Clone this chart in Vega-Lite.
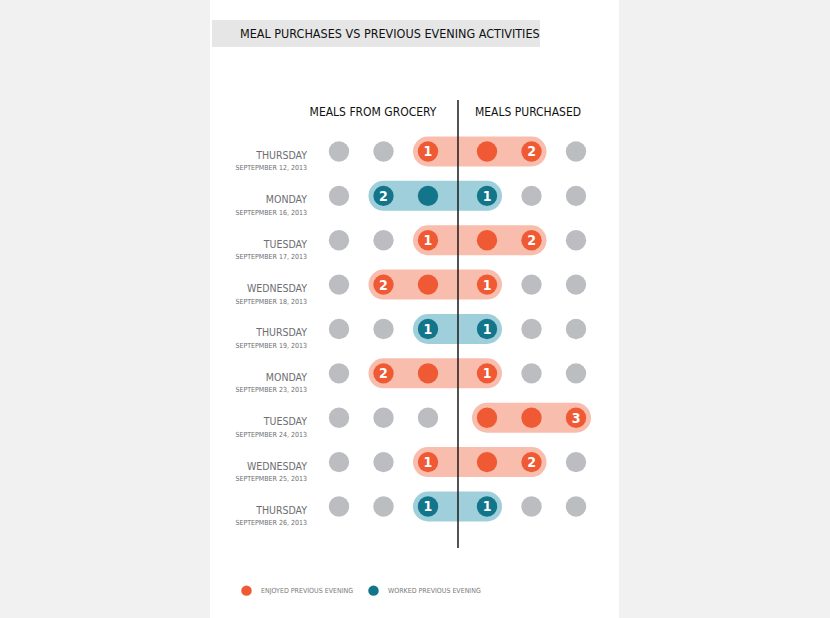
{
  "$schema": "https://vega.github.io/schema/vega-lite/v6.json",
  "width": 409,
  "height": 618,
  "autosize": {"type": "none"},
  "padding": {"left": 210, "right": 211, "top": 0, "bottom": 0},
  "background": "#f1f1f1",
  "config": {
    "view": {"stroke": null, "fill": "white"},
    "font": "Liberation Sans Narrow, DejaVu Sans Condensed, sans-serif",
    "axis": {"disable": true}
  },
  "datasets": {
    "cells": [
      {"row":1,"slot":-3,"status":"None"},{"row":1,"slot":-2,"status":"None"},{"row":1,"slot":-1,"status":"Enjoyed","n":1},{"row":1,"slot":1,"status":"Enjoyed"},{"row":1,"slot":2,"status":"Enjoyed","n":2},{"row":1,"slot":3,"status":"None"},
      {"row":2,"slot":-3,"status":"None"},{"row":2,"slot":-2,"status":"Worked","n":2},{"row":2,"slot":-1,"status":"Worked"},{"row":2,"slot":1,"status":"Worked","n":1},{"row":2,"slot":2,"status":"None"},{"row":2,"slot":3,"status":"None"},
      {"row":3,"slot":-3,"status":"None"},{"row":3,"slot":-2,"status":"None"},{"row":3,"slot":-1,"status":"Enjoyed","n":1},{"row":3,"slot":1,"status":"Enjoyed"},{"row":3,"slot":2,"status":"Enjoyed","n":2},{"row":3,"slot":3,"status":"None"},
      {"row":4,"slot":-3,"status":"None"},{"row":4,"slot":-2,"status":"Enjoyed","n":2},{"row":4,"slot":-1,"status":"Enjoyed"},{"row":4,"slot":1,"status":"Enjoyed","n":1},{"row":4,"slot":2,"status":"None"},{"row":4,"slot":3,"status":"None"},
      {"row":5,"slot":-3,"status":"None"},{"row":5,"slot":-2,"status":"None"},{"row":5,"slot":-1,"status":"Worked","n":1},{"row":5,"slot":1,"status":"Worked","n":1},{"row":5,"slot":2,"status":"None"},{"row":5,"slot":3,"status":"None"},
      {"row":6,"slot":-3,"status":"None"},{"row":6,"slot":-2,"status":"Enjoyed","n":2},{"row":6,"slot":-1,"status":"Enjoyed"},{"row":6,"slot":1,"status":"Enjoyed","n":1},{"row":6,"slot":2,"status":"None"},{"row":6,"slot":3,"status":"None"},
      {"row":7,"slot":-3,"status":"None"},{"row":7,"slot":-2,"status":"None"},{"row":7,"slot":-1,"status":"None"},{"row":7,"slot":1,"status":"Enjoyed"},{"row":7,"slot":2,"status":"Enjoyed"},{"row":7,"slot":3,"status":"Enjoyed","n":3},
      {"row":8,"slot":-3,"status":"None"},{"row":8,"slot":-2,"status":"None"},{"row":8,"slot":-1,"status":"Enjoyed","n":1},{"row":8,"slot":1,"status":"Enjoyed"},{"row":8,"slot":2,"status":"Enjoyed","n":2},{"row":8,"slot":3,"status":"None"},
      {"row":9,"slot":-3,"status":"None"},{"row":9,"slot":-2,"status":"None"},{"row":9,"slot":-1,"status":"Worked","n":1},{"row":9,"slot":1,"status":"Worked","n":1},{"row":9,"slot":2,"status":"None"},{"row":9,"slot":3,"status":"None"}
    ],
    "days": [
      {"row":1,"day":"THURSDAY","date":"SEPTEPMBER 12, 2013"},
      {"row":2,"day":"MONDAY","date":"SEPTEPMBER 16, 2013"},
      {"row":3,"day":"TUESDAY","date":"SEPTEPMBER 17, 2013"},
      {"row":4,"day":"WEDNESDAY","date":"SEPTEPMBER 18, 2013"},
      {"row":5,"day":"THURSDAY","date":"SEPTEPMBER 19, 2013"},
      {"row":6,"day":"MONDAY","date":"SEPTEPMBER 23, 2013"},
      {"row":7,"day":"TUESDAY","date":"SEPTEPMBER 24, 2013"},
      {"row":8,"day":"WEDNESDAY","date":"SEPTEPMBER 25, 2013"},
      {"row":9,"day":"THURSDAY","date":"SEPTEPMBER 26, 2013"}
    ],
    "texts": [
      {"title":"MEAL PURCHASES VS PREVIOUS EVENING ACTIVITIES","left":"MEALS FROM GROCERY","right":"MEALS PURCHASED"}
    ]
  },
  "resolve": {"scale": {"color": "independent"}},
  "layer": [
    {
      "data": {"name": "texts"},
      "mark": {"type": "rect", "color": "#e6e6e6"},
      "encoding": {
        "x": {"datum": -5.517, "type": "quantitative", "scale": {"domain": [-5.5618, 3.6292], "nice": false, "zero": false}},
        "x2": {"datum": 1.854},
        "y": {"datum": -1.963, "type": "quantitative", "scale": {"domain": [-2.414, 11.513], "nice": false, "zero": false, "reverse": true}},
        "y2": {"datum": -1.355}
      }
    },
    {
      "data": {"name": "texts"},
      "mark": {"type": "text", "align": "left", "baseline": "middle", "fontSize": 12.5, "color": "#111111"},
      "encoding": {
        "x": {"datum": -4.888, "type": "quantitative"},
        "y": {"datum": -1.648, "type": "quantitative"},
        "text": {"field": "title"}
      }
    },
    {
      "data": {"name": "texts"},
      "mark": {"type": "text", "align": "center", "baseline": "middle", "fontSize": 12, "color": "#111111"},
      "encoding": {
        "x": {"datum": -1.899, "type": "quantitative"},
        "y": {"datum": 0.11, "type": "quantitative"},
        "text": {"field": "left"}
      }
    },
    {
      "data": {"name": "texts"},
      "mark": {"type": "text", "align": "center", "baseline": "middle", "fontSize": 12, "color": "#111111"},
      "encoding": {
        "x": {"datum": 1.584, "type": "quantitative"},
        "y": {"datum": 0.11, "type": "quantitative"},
        "text": {"field": "right"}
      }
    },
    {
      "data": {"name": "cells"},
      "transform": [
        {"filter": "datum.status != 'None'"},
        {"calculate": "datum.slot < 0 ? datum.slot + 0.337 : datum.slot - 0.337", "as": "xpos"},
        {"aggregate": [{"op": "min", "field": "xpos", "as": "x0"}, {"op": "max", "field": "xpos", "as": "x1"}], "groupby": ["row", "status"]}
      ],
      "mark": {"type": "rule", "strokeWidth": 30, "strokeCap": "round", "opacity": 1},
      "encoding": {
        "x": {"field": "x0", "type": "quantitative"},
        "x2": {"field": "x1"},
        "y": {"field": "row", "type": "quantitative"},
        "color": {"field": "status", "type": "nominal", "legend": null, "scale": {"domain": ["Enjoyed", "Worked"], "range": ["#f8bdac", "#9fcfda"]}}
      }
    },
    {
      "data": {"name": "texts"},
      "mark": {"type": "rule", "strokeWidth": 1.5, "color": "#1a1a1a"},
      "encoding": {
        "x": {"datum": 0.011, "type": "quantitative"},
        "y": {"datum": -0.161, "type": "quantitative"},
        "y2": {"datum": 9.935}
      }
    },
    {
      "data": {"name": "cells"},
      "transform": [
        {"calculate": "datum.slot < 0 ? datum.slot + 0.337 : datum.slot - 0.337", "as": "xpos"}
      ],
      "mark": {"type": "point", "filled": true, "shape": "circle", "size": 415, "opacity": 1},
      "encoding": {
        "x": {"field": "xpos", "type": "quantitative"},
        "y": {"field": "row", "type": "quantitative"},
        "color": {
          "field": "status", "type": "nominal",
          "scale": {"domain": ["Enjoyed", "Worked", "None"], "range": ["#ef5a35", "#13758a", "#bcbdc1"]},
          "legend": {
            "values": ["Enjoyed", "Worked"],
            "title": null,
            "orient": "none",
            "legendX": 31,
            "legendY": 585,
            "direction": "horizontal",
            "symbolType": "circle",
            "symbolSize": 110,
            "symbolStrokeWidth": 0,
            "symbolOpacity": 1,
            "labelFontSize": 7,
            "labelColor": "#7a7a7a",
            "labelOffset": 9,
            "columnPadding": 14,
            "labelExpr": "datum.label == 'Enjoyed' ? 'ENJOYED PREVIOUS EVENING' : 'WORKED PREVIOUS EVENING'"
          }
        }
      }
    },
    {
      "data": {"name": "cells"},
      "transform": [
        {"filter": "isValid(datum.n)"},
        {"calculate": "datum.slot < 0 ? datum.slot + 0.337 : datum.slot - 0.337", "as": "xpos"}
      ],
      "mark": {"type": "text", "align": "center", "baseline": "middle", "fontSize": 14, "fontWeight": "bold", "color": "white", "dy": 1},
      "encoding": {
        "x": {"field": "xpos", "type": "quantitative"},
        "y": {"field": "row", "type": "quantitative"},
        "text": {"field": "n"}
      }
    },
    {
      "data": {"name": "days"},
      "mark": {"type": "text", "align": "right", "baseline": "middle", "fontSize": 10.5, "color": "#6d6e71", "dy": 4.5},
      "encoding": {
        "x": {"datum": -3.382, "type": "quantitative"},
        "y": {"field": "row", "type": "quantitative"},
        "text": {"field": "day"}
      }
    },
    {
      "data": {"name": "days"},
      "mark": {"type": "text", "align": "right", "baseline": "middle", "fontSize": 7, "color": "#6d6e71", "dy": 17},
      "encoding": {
        "x": {"datum": -3.382, "type": "quantitative"},
        "y": {"field": "row", "type": "quantitative"},
        "text": {"field": "date"}
      }
    }
  ]
}
